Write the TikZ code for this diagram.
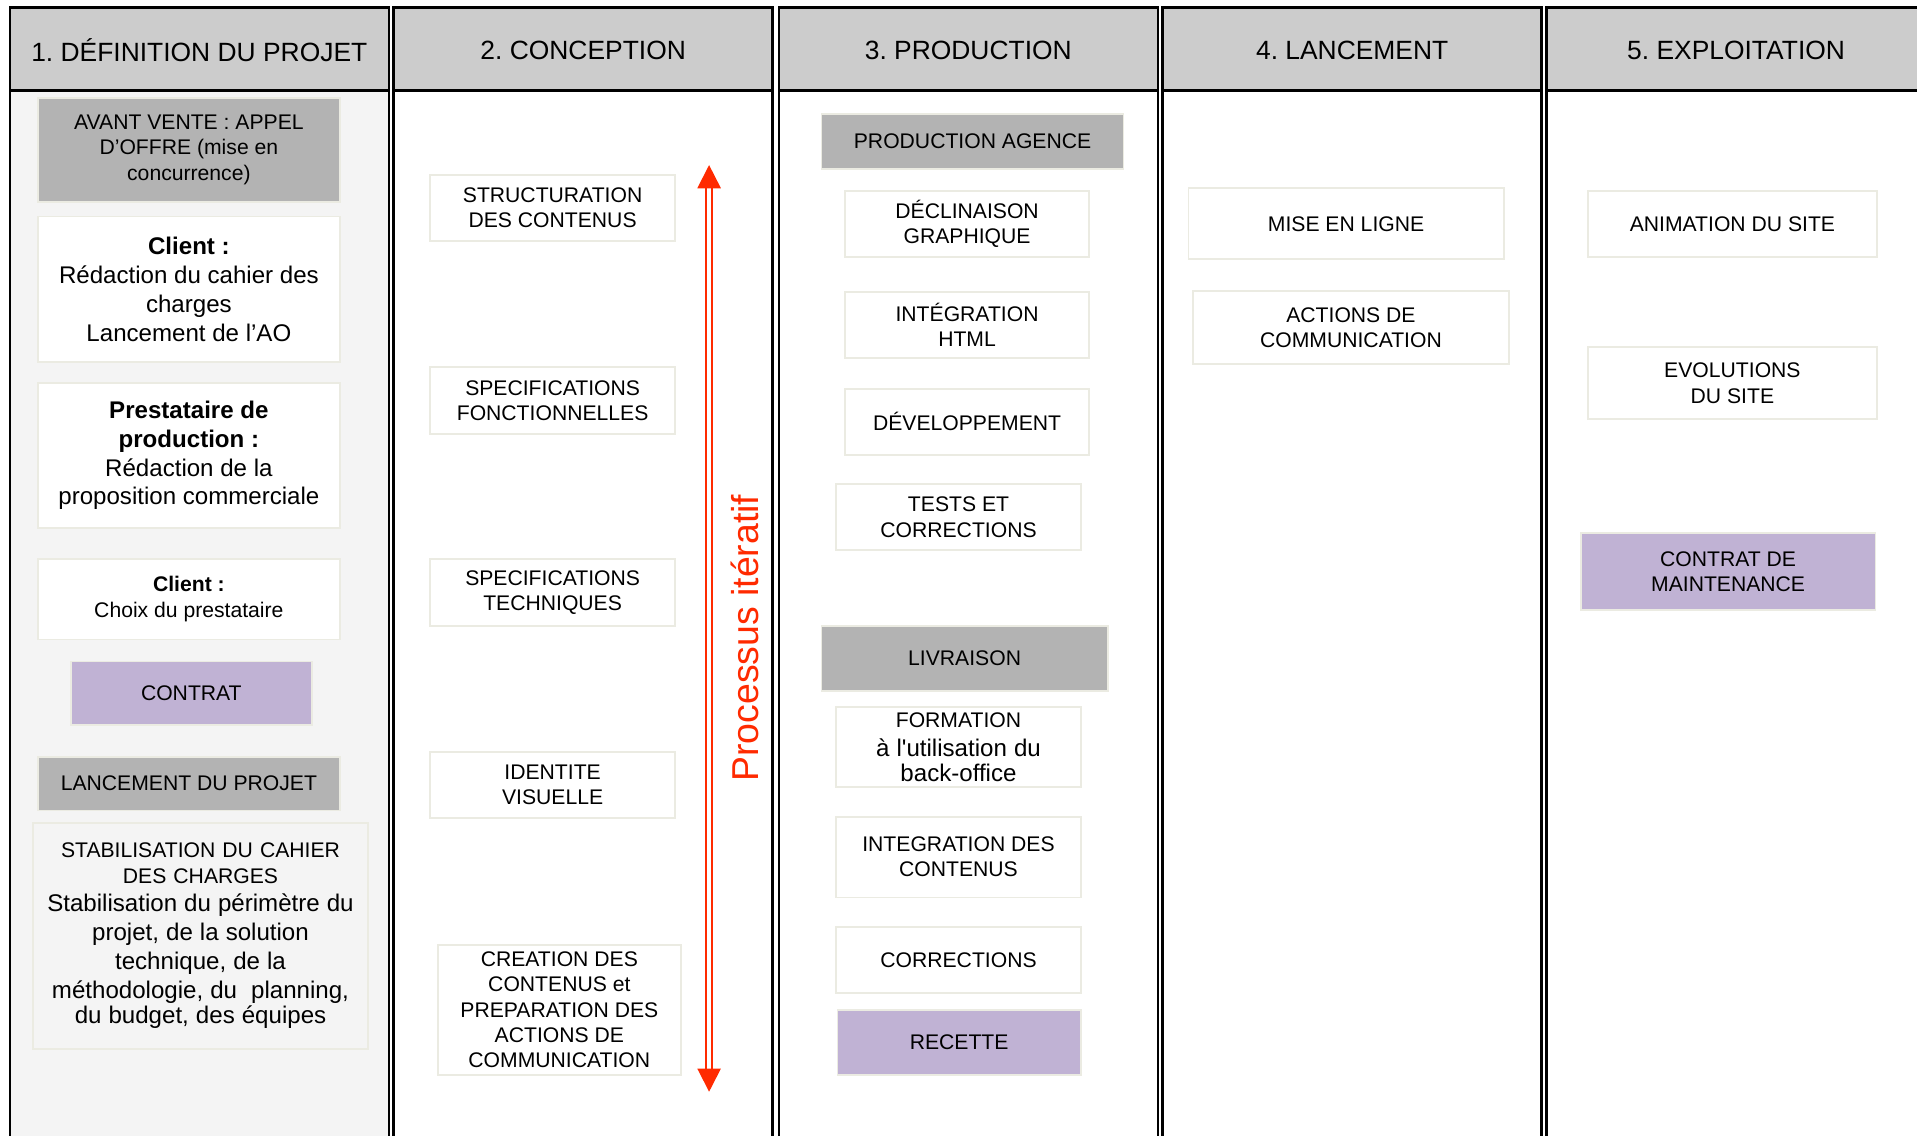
\documentclass[tikz,border=0pt]{standalone}
\usepackage{fontspec}
\setmainfont{Liberation Sans}
\usetikzlibrary{arrows.meta}
\definecolor{entete}{HTML}{CCCCCC}
\definecolor{fondgris}{HTML}{F4F4F4}
\definecolor{gris}{HTML}{B3B3B3}
\definecolor{lilas}{HTML}{C0B2D4}
\definecolor{bord}{HTML}{EBEBE2}
\definecolor{rouge}{HTML}{FF2A00}
\newcommand\petit{\fontsize{8.65}{10.3}\selectfont}
\newcommand\moyen{\fontsize{9.85}{11.8}\selectfont}
\newcommand\titre{\fontsize{10.8}{13}\selectfont}
\newcommand\grand{\fontsize{15.3}{18}\selectfont}
\frenchspacing

\begin{document}
\begin{tikzpicture}[x=0.5pt,y=-0.5pt,
  etape/.style={draw=bord,line width=0.7pt,fill=white,align=center,inner sep=0pt,font=\petit},
  grise/.style={etape,fill=gris},
  jalon/.style={etape,fill=lilas},
  sz/.style 2 args={minimum width=#1*0.5pt,minimum height=#2*0.5pt}]
\clip (0,0) rectangle (1568,929);
\foreach \x/\fond/\nom/\titrecol in {8/fondgris/def/{1. DÉFINITION DU PROJET},322/white/conc/{2. CONCEPTION},637/white/prod/{3. PRODUCTION},951/white/lanc/{4. LANCEMENT},1265/white/expl/{5. EXPLOITATION}}{
  \draw[line width=1pt,fill=\fond] (\x,6) rectangle +(310,940);
  \draw[line width=1pt,fill=entete] (\x,6) rectangle +(310,68);
  \node[font=\titre] (h-\nom) at (\x+155,41) {\titrecol};
}

\node[grise,sz={247}{85}] (avv) at (154.5,122.5) {AVANT VENTE : APPEL\\D’OFFRE (mise en\\concurrence)};
\node[etape,sz={247}{119},font=\moyen] (cli1) at (154.5,236.5) {\textbf{Client :}\\Rédaction du cahier des\\charges\\Lancement de l’AO};
\node[etape,sz={247}{119},font=\moyen] (presta) at (154.5,372.5) {\textbf{Prestataire de}\\\textbf{production :}\\Rédaction de la\\proposition commerciale};
\node[etape,sz={247}{66}] (cli2) at (154.5,490) {\textbf{Client :}\\Choix du prestataire};
\node[jalon,sz={197}{52}] (contrat) at (156.5,567) {CONTRAT};
\node[grise,sz={247}{44}] (lancement) at (154.5,641) {LANCEMENT DU PROJET};
\node[etape,fill=fondgris,sz={274}{185},text width=134pt] (stab) at (164,765.5) {STABILISATION DU CAHIER\\DES CHARGES\par\moyen Stabilisation du périmètre du\\projet, de la solution\\technique, de la\\méthodologie, du\ \ planning,\\du budget, des équipes};

\node[etape,sz={200}{54}] (struct) at (452,170) {STRUCTURATION\\DES CONTENUS};
\node[etape,sz={200}{55}] (specf) at (452,327.5) {SPECIFICATIONS\\FONCTIONNELLES};
\node[etape,sz={200}{55}] (spect) at (452,484.5) {SPECIFICATIONS\\TECHNIQUES};
\node[etape,sz={200}{54}] (ident) at (452,642) {IDENTITE\\VISUELLE};
\node[etape,sz={199}{106}] (creat) at (457.5,826) {CREATION DES\\CONTENUS et\\PREPARATION DES\\ACTIONS DE\\COMMUNICATION};
\coordinate (haut) at (580,135);
\coordinate (bas) at (580,893);
\draw[rouge,line width=0.75pt,double=white,double distance=1.5pt,{Triangle[length=9.5pt,width=9.5pt]}-{Triangle[length=9.5pt,width=9.5pt]}] (haut) -- (bas);
\node[font=\grand,text=rouge,rotate=90] (iter) at (609,522) {Processus itératif};

\node[grise,sz={247}{45}] (prodag) at (795.5,115.5) {PRODUCTION AGENCE};
\node[etape,sz={200}{54}] (decl) at (791,183) {DÉCLINAISON\\GRAPHIQUE};
\node[etape,sz={200}{54}] (html) at (791,266) {INTÉGRATION\\HTML};
\node[etape,sz={200}{54}] (dev) at (791,345) {DÉVELOPPEMENT};
\node[etape,sz={200}{54}] (tests) at (784,423) {TESTS ET\\CORRECTIONS};
\node[grise,sz={234}{53}] (livr) at (789,538.5) {LIVRAISON};
\node[etape,sz={200}{66},text width=96pt] (form) at (784,611) {FORMATION\par\moyen à l\textquotesingle utilisation du\\back-office};
\node[etape,sz={200}{66}] (intcont) at (784,701) {INTEGRATION DES\\CONTENUS};
\node[etape,sz={200}{54}] (corr) at (784,785) {CORRECTIONS};
\node[jalon,sz={199}{53}] (recette) at (784.5,852.5) {RECETTE};

\node[etape,sz={258}{58}] (miseligne) at (1101,183) {MISE EN LIGNE};
\node[etape,sz={258}{60}] (actions) at (1105,268) {ACTIONS DE\\COMMUNICATION};

\node[etape,sz={236}{54}] (anim) at (1417,183) {ANIMATION DU SITE};
\node[etape,sz={236}{59}] (evol) at (1417,313.5) {EVOLUTIONS\\DU SITE};
\node[jalon,sz={241}{63}] (maint) at (1413.5,467.5) {CONTRAT DE\\MAINTENANCE};
\end{tikzpicture}
\end{document}
